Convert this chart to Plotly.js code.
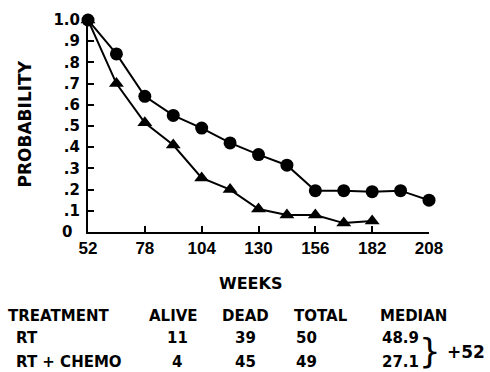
<!DOCTYPE html>
<html>
<head>
<meta charset="utf-8">
<script src="https://cdn.plot.ly/plotly-3.0.1.min.js"></script>
<style>html,body{margin:0;padding:0;background:#fff;}#chart{width:490px;height:372px;}</style>
</head>
<body>
<div id="chart"></div>
<script>
// ---- data ----
var weeksRT = [52, 65, 78, 91, 104, 117, 130, 143, 156, 169, 182, 195, 208];
var probRT = [1.0, 0.84, 0.64, 0.55, 0.49, 0.42, 0.365, 0.315, 0.195, 0.195, 0.19, 0.195, 0.15];
var weeksChemo = [52, 65, 78, 91, 104, 117, 130, 143, 156, 169, 182];
var probChemo = [1.0, 0.70, 0.515, 0.41, 0.255, 0.20, 0.108, 0.08, 0.08, 0.042, 0.052];

var xTickVals = [52, 78, 104, 130, 156, 182, 208];
var yTickVals = [0, 0.1, 0.2, 0.3, 0.4, 0.5, 0.6, 0.7, 0.8, 0.9, 1.0];
var yTickText = ['0\u2002', '.1', '.2', '.3', '.4', '.5', '.6', '.7', '.8', '.9', '1.0'];

var tableHeaders = ['TREATMENT', 'ALIVE', 'DEAD', 'TOTAL', 'MEDIAN'];
var treatments = ['RT', 'RT + CHEMO'];
var alive = ['11', '4'];
var dead = ['39', '45'];
var total = ['50', '49'];
var median = ['48.9', '27.1'];
var medianDiff = '+52';

// ---- layout helpers (pixel -> paper) ----
var L = 88, R = 429, T = 20, B = 232;
function px(x) { return (x - L) / (R - L); }
function py(y) { return (B - y) / (B - T); }

var boldFont = 'DejaVu Sans';
function ann(text, x, y, xanchor, size, extra) {
  var a = {text: text, x: px(x), y: py(y), xref: 'paper', yref: 'paper',
    xanchor: xanchor, yanchor: 'middle', showarrow: false, borderpad: 0,
    font: {family: boldFont, size: size, color: '#000', weight: 'bold'}};
  if (extra) for (var k in extra) a[k] = extra[k];
  return a;
}

var annotations = [];
annotations.push(ann('WEEKS', 250, 283.5, 'center', 16));
annotations.push(ann('PROBABILITY', 24.5, 124, 'center', 17, {textangle: -90}));
var colX = [7, 173, 245, 321, 413];
var colAnchor = ['left', 'center', 'center', 'center', 'center'];
for (var i = 0; i < tableHeaders.length; i++) {
  annotations.push(ann(tableHeaders[i], colX[i], 316, colAnchor[i], 15));
}
var rowY = [338, 362];
var valX = [15, 177, 245, 306, 400];
var valAnchor = ['left', 'center', 'center', 'center', 'center'];
for (var r = 0; r < treatments.length; r++) {
  var vals = [treatments[r], alive[r], dead[r], total[r], median[r]];
  for (var c = 0; c < vals.length; c++) {
    annotations.push(ann(vals[c], valX[c], rowY[r], valAnchor[c], 15));
  }
}
annotations.push({text: '}', x: px(430), y: py(351), xref: 'paper', yref: 'paper',
  xanchor: 'center', yanchor: 'middle', showarrow: false, borderpad: 0,
  font: {family: 'DejaVu Sans', size: 34, color: '#000', weight: 'normal'}});
annotations.push(ann(medianDiff, 446, 352, 'left', 17));

var traces = [
  {x: weeksRT, y: probRT, mode: 'lines+markers', type: 'scatter', cliponaxis: false,
   line: {color: '#000', width: 2}, marker: {symbol: 'circle', size: 13, color: '#000'}},
  {x: weeksChemo, y: probChemo, mode: 'lines+markers', type: 'scatter', cliponaxis: false,
   line: {color: '#000', width: 2}, marker: {symbol: 'triangle-up', size: 13, color: '#000'}}
];

var layout = {
  width: 490, height: 372,
  margin: {l: L, r: 490 - R, t: T, b: 372 - B, pad: 0},
  paper_bgcolor: '#fff', plot_bgcolor: '#fff',
  showlegend: false,
  xaxis: {range: [52, 208], tickvals: xTickVals, ticks: 'inside', ticklen: 6, tickwidth: 2,
    tickcolor: '#000', showline: true, linewidth: 2, linecolor: '#000', showgrid: false,
    zeroline: false, ticklabelstandoff: 0,
    tickfont: {family: 'Liberation Sans', size: 17, color: '#000', weight: 'bold'}},
  yaxis: {range: [0, 1], tickvals: yTickVals, ticktext: yTickText, ticks: 'inside', ticklen: 6,
    tickwidth: 2, tickcolor: '#000', showline: true, linewidth: 2, linecolor: '#000',
    showgrid: false, zeroline: false, ticklabelstandoff: 3,
    tickfont: {family: boldFont, size: 15, color: '#000', weight: 'bold'}},
  annotations: annotations
};

Plotly.newPlot('chart', traces, layout, {displayModeBar: false, staticPlot: true});
</script>
</body>
</html>
